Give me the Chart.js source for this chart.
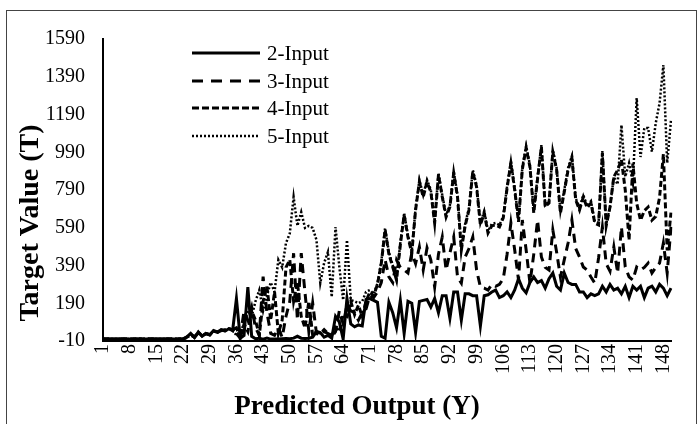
<!DOCTYPE html>
<html>
<head>
<meta charset="utf-8">
<script src="https://cdn.jsdelivr.net/npm/chart.js@4.4.1/dist/chart.umd.min.js"></script>
<style>
  body { margin: 0; background: #fff; }
  #wrap { position: relative; width: 698px; height: 424px; }
</style>
</head>
<body>
<div id="wrap"><canvas id="chart" width="698" height="424"></canvas></div>
<script>
// DATA
const categories = [];
for (let i = 1; i <= 150; i++) categories.push(String(i));

const yTicks = [-10, 190, 390, 590, 790, 990, 1190, 1390, 1590];
const seriesNames = ["2-Input", "3-Input", "4-Input", "5-Input"];

const input2 = [
  0, 0, 0, 0, 0, 0, 0, 0, 0, 0,
  0, 0, 0, 0, 0, 0, 0, 0, 0, 0,
  0, 2, 12, 30, 8, 38, 15, 30, 22, 45,
  38, 50, 42, 55, 45, 215, 5, 20, 275, 15,
  2, 5, 0, 5, 0, 0, 0, 2, 3, 2,
  5, 15, 5, 3, 5, 10, 40, 35, 10, 20,
  5, 120, 90, 0, 215, 80, 65, 75, 70, 210,
  215, 205, 195, 15, 5, 195, 140, 60, 205, 30,
  200, 190, 35, 200, 205, 210, 170, 215, 140, 230,
  230, 110, 250, 250, 100, 240, 240, 230, 230, 70,
  230, 235, 250, 260, 220, 230, 250, 220, 260, 320,
  270, 245, 300, 330, 300, 310, 270, 320, 350, 280,
  260, 350, 300, 290, 290, 250, 250, 220, 240, 230,
  240, 280, 250, 290, 260, 270, 240, 280, 220, 280,
  260, 280, 220, 270, 280, 250, 290, 270, 230, 270
];

const input3 = [
  0, 0, 0, 0, 0, 0, 0, 0, 0, 0,
  0, 0, 0, 0, 0, 0, 0, 0, 0, 0,
  0, 0, 8, 25, 12, 32, 20, 28, 25, 40,
  35, 45, 50, 55, 50, 60, 10, 150, 100, 170,
  60, 20, 331, 140, 30, 20, 60, 10, 120, 200,
  455, 101, 456, 244, 40, 191, 30, 20, 40, 30,
  10, 40, 150, 80, 180, 150, 140, 100, 140, 160,
  230, 220, 250, 300, 420, 330, 300, 419, 380, 366,
  350, 456, 400, 488, 366, 483, 419, 276, 450, 541,
  366, 456, 541, 329, 297, 435, 480, 541, 366, 276,
  270, 260, 290, 280, 290, 320, 450, 615, 472, 313,
  631, 472, 297, 450, 630, 435, 380, 366, 578, 460,
  329, 420, 509, 631, 480, 435, 382, 366, 329, 297,
  430, 594, 400, 360, 488, 350, 594, 382, 330, 313,
  382, 366, 380, 403, 350, 380, 403, 509, 350, 594
];

const input4 = [
  0, 0, 0, 0, 0, 0, 0, 0, 0, 0,
  0, 0, 0, 0, 0, 0, 0, 0, 0, 0,
  0, 0, 10, 22, 10, 35, 18, 30, 22, 42,
  36, 48, 46, 58, 48, 30, 5, 80, 40, 150,
  100, 20, 200, 280, 100, 250, 30, 100, 380, 420,
  200, 300, 120, 60, 200, 20, 40, 30, 50, 30,
  20, 60, 40, 130, 120, 200, 130, 180, 120, 200,
  250, 230, 290, 400, 578, 450, 382, 313, 500, 658,
  540, 456, 684, 833, 753, 833, 780, 615, 870, 753,
  647, 700, 880, 753, 472, 600, 684, 886, 806, 605,
  668, 562, 600, 605, 594, 642, 800, 933, 790, 621,
  900, 1013, 912, 668, 850, 1018, 700, 721, 992, 896,
  668, 780, 896, 960, 737, 684, 753, 695, 721, 615,
  605, 986, 600, 700, 860, 896, 950, 790, 525, 930,
  720, 630, 680, 700, 630, 650, 750, 980, 470, 670
];

const input5 = [
  0, 0, 0, 0, 0, 0, 0, 0, 0, 0,
  0, 0, 0, 0, 0, 0, 0, 0, 0, 0,
  0, 0, 12, 26, 10, 36, 16, 30, 24, 44,
  36, 48, 46, 56, 46, 20, 40, 80, 150, 120,
  200, 260, 150, 230, 300, 250, 420, 380, 509, 560,
  753, 600, 673, 589, 600, 589, 525, 297, 403, 462,
  223, 594, 382, 207, 525, 207, 200, 190, 200, 250,
  260, 240, 295, 410, 588, 460, 392, 323, 510, 668,
  550, 466, 694, 843, 763, 843, 790, 625, 880, 763,
  657, 710, 890, 763, 482, 610, 694, 896, 816, 615,
  678, 572, 610, 615, 604, 652, 810, 943, 800, 631,
  910, 1023, 922, 678, 860, 1028, 710, 731, 1002, 906,
  678, 790, 906, 970, 747, 694, 763, 705, 731, 625,
  615, 996, 610, 700, 860, 820, 1134, 860, 933, 827,
  1277, 965, 1118, 1118, 992, 1145, 1250, 1452, 933, 1161
];

const FONT = "'Liberation Serif', 'Times New Roman', serif";

// EXTRA DRAWING: border, axis titles, legend
const decorPlugin = {
  id: "decor",
  afterDraw(chart) {
    const ctx = chart.ctx;
    ctx.save();

    // outer frame
    ctx.strokeStyle = "#444";
    ctx.lineWidth = 1;
    ctx.setLineDash([]);
    ctx.strokeRect(6.5, 10.5, 690, 430);

    // axis titles
    ctx.fillStyle = "#000";
    ctx.textAlign = "center";
    ctx.textBaseline = "middle";
    ctx.font = "bold 27px " + FONT;
    ctx.fillText("Predicted Output (Y)", 357, 407);

    ctx.save();
    ctx.translate(31, 223);
    ctx.rotate(-Math.PI / 2);
    ctx.font = "bold 28px " + FONT;
    ctx.fillText("Target Value (T)", 0, 0);
    ctx.restore();

    // legend
    const rows = [53, 81, 108, 136];
    chart.data.datasets.forEach((ds, i) => {
      const y = rows[i];
      ctx.beginPath();
      ctx.setLineDash(ds.legendDash);
      ctx.lineWidth = ds.borderWidth;
      ctx.strokeStyle = "#000";
      ctx.moveTo(192, y);
      ctx.lineTo(260, y);
      ctx.stroke();
      ctx.setLineDash([]);
      ctx.font = "21px " + FONT;
      ctx.textAlign = "left";
      ctx.textBaseline = "middle";
      ctx.fillStyle = "#000";
      ctx.fillText(ds.label, 267, y + 1);
    });

    ctx.restore();
  }
};

function makeSet(label, data, width, dash, legendDash) {
  return {
    label,
    data,
    borderColor: "#000",
    backgroundColor: "#000",
    borderWidth: width,
    borderDash: dash,
    legendDash,
    borderCapStyle: "butt",
    pointRadius: 0,
    tension: 0,
    fill: false
  };
}

// CHART
new Chart(document.getElementById("chart"), {
  type: "line",
  data: {
    labels: categories,
    datasets: [
      makeSet(seriesNames[0], input2, 3, [], []),
      makeSet(seriesNames[1], input3, 3, [9, 6], [11, 8]),
      makeSet(seriesNames[2], input4, 3, [6, 3], [7, 3]),
      makeSet(seriesNames[3], input5, 2.5, [2, 2], [2, 2])
    ]
  },
  options: {
    responsive: false,
    animation: false,
    layout: { padding: { top: 39, right: 16, bottom: 0, left: 0 } },
    plugins: {
      legend: { display: false },
      tooltip: { enabled: false }
    },
    scales: {
      x: {
        type: "category",
        offset: false,
        grid: { display: false, drawTicks: false },
        border: { display: true, color: "#000", width: 2 },
        ticks: {
          autoSkip: false,
          maxRotation: 90,
          minRotation: 90,
          padding: 3,
          color: "#000",
          font: { family: FONT, size: 20 },
          callback: (v, i) => (i % 7 === 0 ? categories[i] : "")
        },
        afterFit: s => { s.height = 83; }
      },
      y: {
        min: -10,
        max: 1590,
        grid: { display: false, drawTicks: false },
        border: { display: true, color: "#000", width: 2 },
        ticks: {
          padding: 18,
          color: "#000",
          font: { family: FONT, size: 20 },
          callback: v => String(v)
        },
        afterBuildTicks: s => { s.ticks = yTicks.map(v => ({ value: v })); },
        afterFit: s => { s.width = 103; }
      }
    }
  },
  plugins: [decorPlugin]
});
</script>
</body>
</html>
